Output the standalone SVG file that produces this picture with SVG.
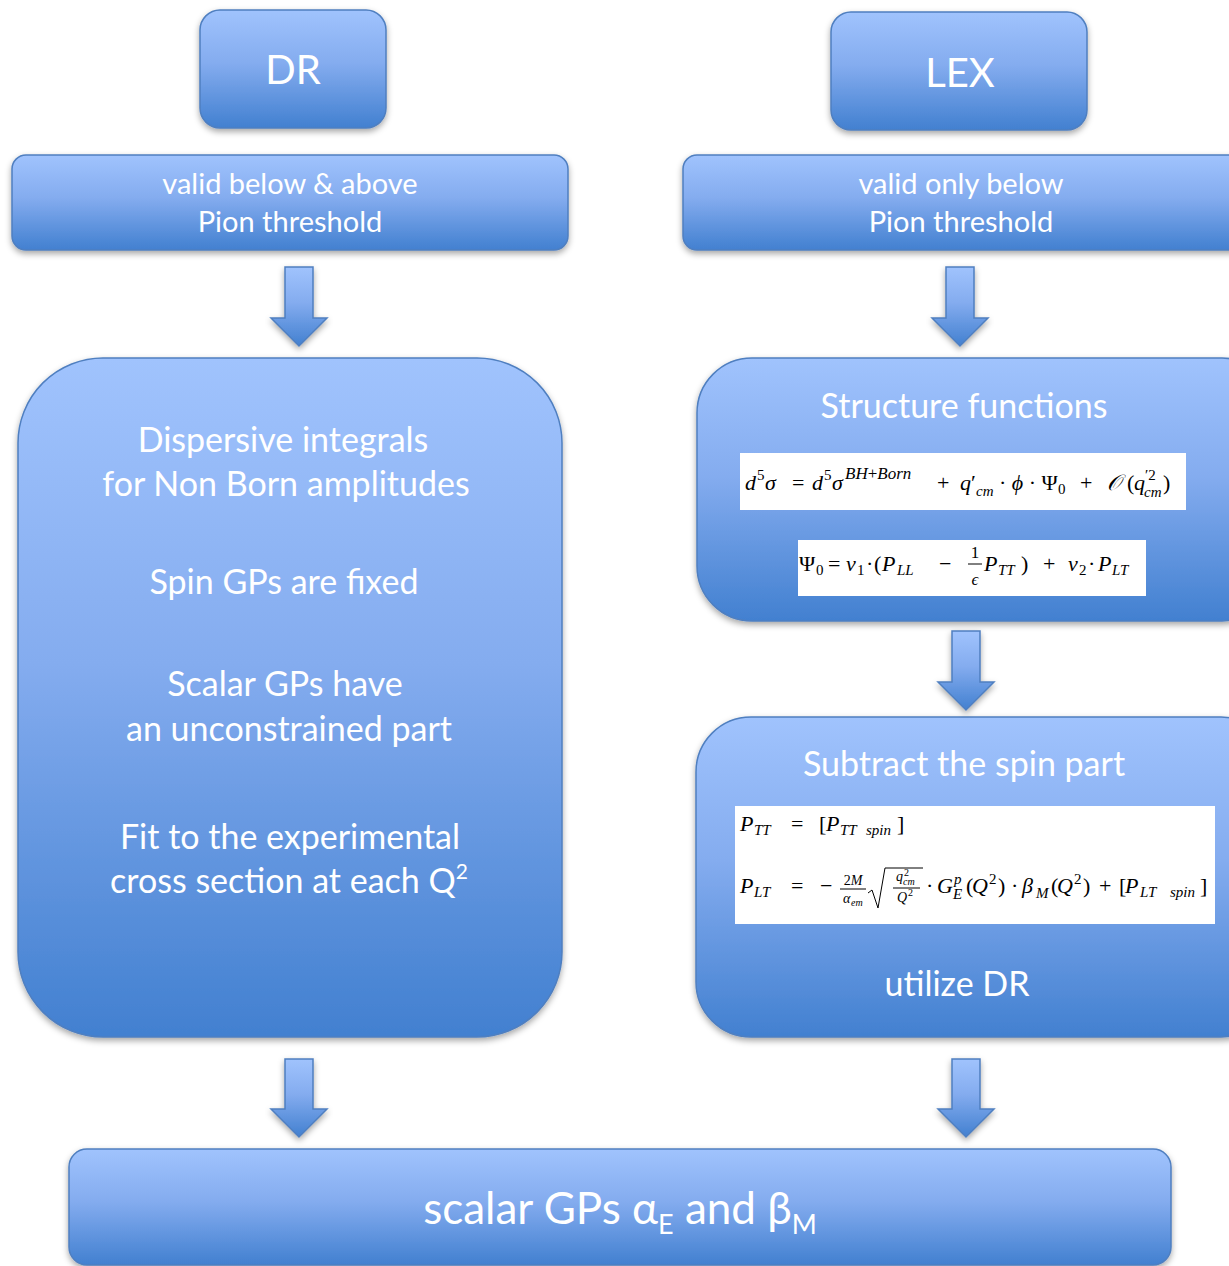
<svg xmlns="http://www.w3.org/2000/svg" width="1229" height="1266" viewBox="0 0 1229 1266">
<defs>
<linearGradient id="g" x1="0" y1="0" x2="0" y2="1">
<stop offset="0" stop-color="#a0c3fd"/>
<stop offset="0.45" stop-color="#84acef"/>
<stop offset="1" stop-color="#4280d0"/>
</linearGradient>
<filter id="sh" x="-10%" y="-10%" width="120%" height="130%">
<feDropShadow dx="0" dy="3" stdDeviation="3" flood-color="#000" flood-opacity="0.35"/>
</filter>
<style>
.box{fill:url(#g);stroke:#4f7fc0;stroke-width:1.5;filter:url(#sh)}
.arr{fill:url(#g);stroke:#4f7fc0;stroke-width:1.5;filter:url(#sh)}
.t{font-family:Lato,"Open Sans",sans-serif;fill:#fff;text-anchor:middle}
.w{fill:#fff}
.m{font-family:"Liberation Serif",serif;font-style:italic;font-size:22px;fill:#000}
.m.s{font-size:15px}
.m.f17{font-size:17px}
.m.f16{font-size:16px}
.m.f14{font-size:14px}
.m.f10{font-size:10px}
.r{font-style:normal}
.bar{stroke:#000;stroke-width:1;fill:none}
</style>
</defs>

<g id="dr">
<rect class="box" x="200" y="10" width="186" height="118" rx="20"/>
<text class="t" x="293" y="84" font-size="40">DR</text>
</g>
<g id="lex">
<rect class="box" x="831" y="12" width="256" height="118" rx="20"/>
<text class="t" x="960" y="87" font-size="40">LEX</text>
</g>
<g id="dr-valid">
<rect class="box" x="12" y="155" width="556" height="95" rx="14"/>
<text class="t" x="290" y="194" font-size="29">valid below &amp; above</text>
<text class="t" x="290" y="232" font-size="29">Pion threshold</text>
</g>
<g id="lex-valid">
<rect class="box" x="683" y="155" width="570" height="95" rx="14"/>
<text class="t" x="961" y="194" font-size="29">valid only below</text>
<text class="t" x="961" y="232" font-size="29">Pion threshold</text>
</g>
<g id="dr-main">
<rect class="box" x="18" y="358" width="544" height="679" rx="85"/>
<text class="t" x="283" y="452" font-size="34">Dispersive integrals</text>
<text class="t" x="286" y="496" font-size="34">for Non Born amplitudes</text>
<text class="t" x="284" y="594" font-size="34">Spin GPs are fixed</text>
<text class="t" x="285" y="696" font-size="34">Scalar GPs have</text>
<text class="t" x="289" y="741" font-size="34">an unconstrained part</text>
<text class="t" x="290" y="849" font-size="34">Fit to the experimental</text>
<text class="t" x="289" y="893" font-size="34">cross section at each Q<tspan dy="-14" font-size="21">2</tspan></text>
</g>
<g id="structure">
<rect class="box" x="697" y="358" width="580" height="263" rx="55"/>
<text class="t" x="964" y="418" font-size="34">Structure functions</text>
<rect class="w" x="740" y="453" width="446" height="57"/>
<text class="m" x="745" y="490">d</text>
<text class="m r s" x="757" y="480">5</text>
<text class="m" x="765" y="490">σ</text>
<text class="m r" x="792" y="490">=</text>
<text class="m" x="812" y="490">d</text>
<text class="m r s" x="824" y="480">5</text>
<text class="m" x="832" y="490">σ</text>
<text class="m f17" x="845" y="479">BH<tspan class="r">+</tspan>Born</text>
<text class="m r" x="937" y="490">+</text>
<text class="m" x="960" y="490">q<tspan class="r">′</tspan></text>
<text class="m s" x="976" y="496">cm</text>
<text class="m r" x="999" y="490">· <tspan font-style="italic">ϕ</tspan> · Ψ</text>
<text class="m r s" x="1058" y="494">0</text>
<text class="m r" x="1080" y="490">+</text>
<text class="m" x="1107" y="490">𝒪</text>
<text class="m r" x="1127" y="490">(</text>
<text class="m" x="1134" y="490">q</text>
<text class="m r s" x="1145" y="480">′2</text>
<text class="m s" x="1144" y="497">cm</text>
<text class="m r" x="1163" y="490">)</text>

<rect class="w" x="798" y="540" width="348" height="56"/>
<text class="m r" x="799" y="571">Ψ</text>
<text class="m r s" x="816" y="575">0</text>
<text class="m r" x="828" y="571">=</text>
<text class="m" x="846" y="571">v</text>
<text class="m r s" x="857" y="575">1</text>
<text class="m r" x="866" y="571">·</text>
<text class="m r" x="874" y="571">(</text>
<text class="m" x="882" y="571">P</text>
<text class="m s" x="897" y="575">LL</text>
<text class="m r" x="939" y="571">−</text>
<text class="m r f17" x="975" y="558" text-anchor="middle">1</text>
<line class="bar" x1="968" y1="564" x2="982" y2="564"/>
<text class="m f17" x="975" y="585" text-anchor="middle">ϵ</text>
<text class="m" x="984" y="571">P</text>
<text class="m s" x="998" y="575">TT</text>
<text class="m r" x="1021" y="571">)</text>
<text class="m r" x="1043" y="571">+</text>
<text class="m" x="1068" y="571">v</text>
<text class="m r s" x="1079" y="575">2</text>
<text class="m r" x="1088" y="571">·</text>
<text class="m" x="1098" y="571">P</text>
<text class="m s" x="1112" y="575">LT</text>
</g>
<g id="subtract">
<rect class="box" x="696" y="717" width="580" height="320" rx="55"/>
<text class="t" x="964" y="776" font-size="34">Subtract the spin part</text>
<rect class="w" x="735" y="806" width="480" height="118"/>
<text class="m" x="740" y="831">P</text>
<text class="m s" x="754" y="835">TT</text>
<text class="m r" x="791" y="831">=</text>
<text class="m r" x="819" y="831">[</text>
<text class="m" x="826" y="831">P</text>
<text class="m s" x="840" y="835">TT</text>
<text class="m s" x="866" y="835">spin</text>
<text class="m r" x="897" y="831">]</text>

<text class="m" x="740" y="893">P</text>
<text class="m s" x="754" y="897">LT</text>
<text class="m r" x="791" y="893">=</text>
<text class="m r" x="820" y="893">−</text>
<text class="m r f14" x="853" y="885" text-anchor="middle">2<tspan font-style="italic">M</tspan></text>
<line class="bar" x1="840" y1="889" x2="866" y2="889" stroke-width="0.8"/>
<text class="m f14" x="843" y="903">α</text>
<text class="m f10" x="851" y="906">em</text>
<path class="bar" d="M868 893L872 890L878 908L885 868H923"/>
<text class="m f14" x="896" y="881">q</text>
<text class="m r f10" x="904" y="876">2</text>
<text class="m f10" x="903" y="885">cm</text>
<line class="bar" x1="893" y1="888" x2="920" y2="888" stroke-width="0.8"/>
<text class="m f14" x="897" y="902">Q</text>
<text class="m r f10" x="908" y="896">2</text>
<text class="m r" x="926" y="893">·</text>
<text class="m" x="937" y="893">G</text>
<text class="m s" x="954" y="884">p</text>
<text class="m s" x="953" y="899">E</text>
<text class="m r" x="966" y="893">(</text>
<text class="m" x="972" y="893">Q</text>
<text class="m r s" x="989" y="884">2</text>
<text class="m r" x="998" y="893">)</text>
<text class="m r" x="1011" y="893">·</text>
<text class="m" x="1022" y="893">β</text>
<text class="m s" x="1036" y="898">M</text>
<text class="m r" x="1051" y="893">(</text>
<text class="m" x="1057" y="893">Q</text>
<text class="m r s" x="1074" y="884">2</text>
<text class="m r" x="1083" y="893">)</text>
<text class="m r" x="1099" y="893">+</text>
<text class="m r" x="1119" y="893">[</text>
<text class="m" x="1125" y="893">P</text>
<text class="m s" x="1140" y="897">LT</text>
<text class="m s" x="1170" y="897">spin</text>
<text class="m r" x="1200" y="893">]</text>
<text class="t" x="957" y="996" font-size="34">utilize DR</text>
</g>
<g id="result">
<rect class="box" x="69" y="1149" width="1102" height="116" rx="18"/>
<text class="t" x="620" y="1224" font-size="44">scalar GPs α<tspan dy="10" font-size="27">E</tspan><tspan dy="-10"> and β</tspan><tspan dy="10" font-size="27">M</tspan></text>
</g>
<g id="connectors">
<path class="arr" d="M285 267H313V318H327L299 346L271 318H285Z"/>
<path class="arr" d="M946 267H974V318H988L960 346L932 318H946Z"/>
<path class="arr" d="M952 631H980V682H994L966 710L938 682H952Z"/>
<path class="arr" d="M285 1059H313V1109H327L299 1137L271 1109H285Z"/>
<path class="arr" d="M952 1059H980V1109H994L966 1137L938 1109H952Z"/>
</g>
</svg>
